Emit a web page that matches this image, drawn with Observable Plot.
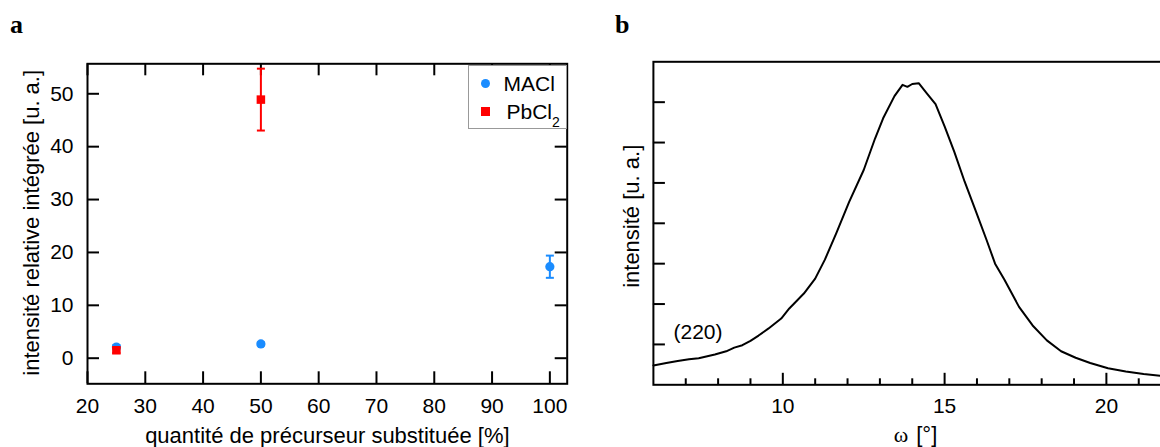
<!DOCTYPE html>
<html><head><meta charset="utf-8">
<script src="https://cdn.jsdelivr.net/npm/d3@7"></script>
<script src="https://cdn.jsdelivr.net/npm/@observablehq/plot@0.6"></script>
<style>
html,body{margin:0;padding:0;background:#fff;overflow:hidden;}
#wrap{position:relative;width:1160px;height:447px;overflow:hidden;font-family:"Liberation Sans",Arial,sans-serif;color:#000;}
.panel{position:absolute;top:0;}
.plabel{position:absolute;font-family:"Liberation Serif","Times New Roman",serif;font-weight:bold;font-size:26px;line-height:1;}
.legend{position:absolute;left:467.5px;top:64.5px;width:97px;height:62px;border:1px solid #999;background:#fff;}
.legend .sym{position:absolute;}
.legend .txt{position:absolute;font-size:21px;line-height:1;white-space:nowrap;}
</style></head>
<body><div id="wrap">
<div class="plabel" style="left:10px;top:12px;">a</div>
<div class="plabel" style="left:615px;top:12px;">b</div>
</div>
<script>
// ---- Panel a data ----
const maclSubstitution = [25, 50, 100];
const maclIntensity = [2.1, 2.7, 17.3];
const maclError = [0.4, 0.3, 2.1];
const pbcl2Substitution = [25, 50];
const pbcl2Intensity = [1.5, 48.9];
const pbcl2Error = [0.5, 5.85];
const xTicksA = [20, 30, 40, 50, 60, 70, 80, 90, 100];
const yTicksA = [0, 10, 20, 30, 40, 50];
const seriesNames = ["MACl", "PbCl"];
const seriesColors = ["#1a8cff", "#ff0000"];

// ---- Panel b data ----
const omega = [6.0, 6.4, 6.75, 7.1, 7.4, 7.9, 8.25, 8.5, 8.75, 9.0, 9.25, 9.55, 9.95, 10.2, 10.65, 11.0, 11.3, 11.65, 12.05, 12.5, 12.85, 13.1, 13.45, 13.7, 13.85, 14.0, 14.2, 14.45, 14.72, 15.0, 15.3, 15.62, 15.95, 16.3, 16.56, 16.85, 17.3, 17.72, 18.16, 18.6, 19.05, 19.5, 20.05, 20.6, 21.15, 21.7, 22.0];
const intensite = [0.48, 0.54, 0.59, 0.63, 0.66, 0.75, 0.83, 0.92, 0.98, 1.09, 1.22, 1.39, 1.64, 1.89, 2.26, 2.63, 3.1, 3.75, 4.53, 5.32, 6.1, 6.6, 7.15, 7.43, 7.38, 7.45, 7.47, 7.22, 6.95, 6.4, 5.77, 5.03, 4.33, 3.58, 3.0, 2.6, 1.93, 1.47, 1.1, 0.83, 0.67, 0.54, 0.41, 0.33, 0.27, 0.22, 0.2];
const xMajorB = [10, 15, 20];
const xMinorB = [7, 8, 9, 11, 12, 13, 14, 16, 17, 18, 19, 21, 22];
const yTicksB = [1, 2, 3, 4, 5, 6, 7];
const peakLabel = "(220)";
const peakLabelPos = [6.62, 1.31];

const font = '"Liberation Sans", Arial, sans-serif';
const capSymbol = {draw(ctx, size) { const w = Math.sqrt(size / Math.PI); ctx.moveTo(-w, 0); ctx.lineTo(w, 0); }};

const macl = maclSubstitution.map((x, i) => ({x, y: maclIntensity[i], e: maclError[i]}));
const pbcl2 = pbcl2Substitution.map((x, i) => ({x, y: pbcl2Intensity[i], e: pbcl2Error[i]}));

// ---- Panel a ----
const wA = 590, hA = 447, mlA = 87, mrA = 23.3, mtA = 63.3, mbA = 63.7;
const pwA = wA - mlA - mrA, phA = hA - mtA - mbA;
function errMarks(rows, color) {
  return [
    Plot.ruleX(rows, {x: "x", y1: d => d.y - d.e, y2: d => d.y + d.e, stroke: color, strokeWidth: 2}),
    Plot.dot(rows, {x: "x", y: d => d.y + d.e, symbol: capSymbol, r: 4, fill: "none", stroke: color, strokeWidth: 2}),
    Plot.dot(rows, {x: "x", y: d => d.y - d.e, symbol: capSymbol, r: 4, fill: "none", stroke: color, strokeWidth: 2})
  ];
}
const plotA = Plot.plot({
  width: wA, height: hA, marginLeft: mlA, marginRight: mrA, marginTop: mtA, marginBottom: mbA,
  style: {fontFamily: font, fontSize: "21px", color: "#000", background: "transparent", overflow: "visible"},
  x: {domain: [20, 103]},
  y: {domain: [-4.84, 55.67]},
  marks: [
    Plot.axisX(xTicksA, {anchor: "bottom", tickSize: 0, tickPadding: 14, label: null, fontSize: 21}),
    Plot.axisY(yTicksA, {anchor: "left", tickSize: 0, tickPadding: 14, label: null, fontSize: 21}),
    Plot.ruleX(xTicksA, {x: d => d, insetTop: phA - 12, strokeWidth: 2}),
    Plot.ruleX(xTicksA, {x: d => d, insetBottom: phA - 12, strokeWidth: 2}),
    Plot.ruleY(yTicksA, {y: d => d, insetRight: pwA - 12, strokeWidth: 2}),
    Plot.ruleY(yTicksA, {y: d => d, insetLeft: pwA - 12, strokeWidth: 2}),
    ...errMarks(macl, seriesColors[0]),
    Plot.dot(macl, {x: "x", y: "y", r: 4.6, fill: seriesColors[0], stroke: "none"}),
    ...errMarks(pbcl2, seriesColors[1]),
    Plot.dot(pbcl2, {x: "x", y: "y", symbol: "square", r: 4.8, fill: seriesColors[1], stroke: "none"}),
    Plot.frame({strokeWidth: 2}),
    Plot.text(["quantité de précurseur substituée [%]"], {text: d => d, frameAnchor: "bottom", dy: 52, textAnchor: "middle", lineAnchor: "middle", fontSize: 22}),
    Plot.text(["intensité relative intégrée [u. a.]"], {text: d => d, frameAnchor: "left", rotate: -90, dx: -56, dy: -1, textAnchor: "middle", lineAnchor: "middle", fontSize: 22})
  ]
});
plotA.classList.add("panel");
plotA.style.left = "0px";

// ---- Panel b ----
const wB = 600, hB = 447, mlB = 52.9, mrB = 29.4, mtB = 61.3, mbB = 62.7;
const pwB = wB - mlB - mrB, phB = hB - mtB - mbB;
const curve = omega.map((x, i) => ({x, y: intensite[i]}));
const plotB = Plot.plot({
  width: wB, height: hB, marginLeft: mlB, marginRight: mrB, marginTop: mtB, marginBottom: mbB,
  style: {fontFamily: font, fontSize: "21px", color: "#000", background: "transparent", overflow: "visible"},
  x: {domain: [6, 22]},
  y: {domain: [0, 8], axis: null},
  marks: [
    Plot.axisX(xMajorB, {anchor: "bottom", tickSize: 0, tickPadding: 13.5, label: null, fontSize: 21}),
    Plot.ruleX(xMajorB, {x: d => d, insetTop: phB - 11.5, strokeWidth: 2}),
    Plot.ruleX(xMinorB, {x: d => d, insetTop: phB - 6, strokeWidth: 2}),
    Plot.ruleY(yTicksB, {y: d => d, insetRight: pwB - 12, strokeWidth: 2}),
    Plot.line(curve, {x: "x", y: "y", stroke: "#000", strokeWidth: 2}),
    Plot.text([peakLabel], {x: () => peakLabelPos[0], y: () => peakLabelPos[1], text: d => d, textAnchor: "start", fontSize: 21}),
    Plot.frame({strokeWidth: 2}),
    Plot.text(["ω"], {text: d => d, frameAnchor: "bottom", dy: 49.7, dx: -4, textAnchor: "end", lineAnchor: "middle", fontSize: 22, fontFamily: '"Liberation Serif", "Times New Roman", serif'}),
    Plot.text(["[°]"], {text: d => d, frameAnchor: "bottom", dy: 49.7, dx: 4, textAnchor: "start", lineAnchor: "middle", fontSize: 22}),
    Plot.text(["intensité [u. a.]"], {text: d => d, frameAnchor: "left", rotate: -90, dx: -21, dy: -7, textAnchor: "middle", lineAnchor: "middle", fontSize: 22})
  ]
});
plotB.classList.add("panel");
plotB.style.left = "600px";

const wrap = document.getElementById("wrap");
wrap.appendChild(plotA);
wrap.appendChild(plotB);

// ---- Legend (panel a) ----
const legend = document.createElement("div");
legend.className = "legend";
legend.innerHTML =
  `<div class="sym" style="left:12.5px;top:13px;width:9px;height:9px;border-radius:50%;background:${seriesColors[0]}"></div>` +
  `<div class="txt" style="left:35px;top:7px">${seriesNames[0]}</div>` +
  `<div class="sym" style="left:12.5px;top:41.5px;width:8.5px;height:8.5px;background:${seriesColors[1]}"></div>` +
  `<div class="txt" style="left:38px;top:35px">${seriesNames[1]}<span style="font-size:14px;position:relative;top:8px;">2</span></div>`;
wrap.appendChild(legend);
</script>
</body></html>
